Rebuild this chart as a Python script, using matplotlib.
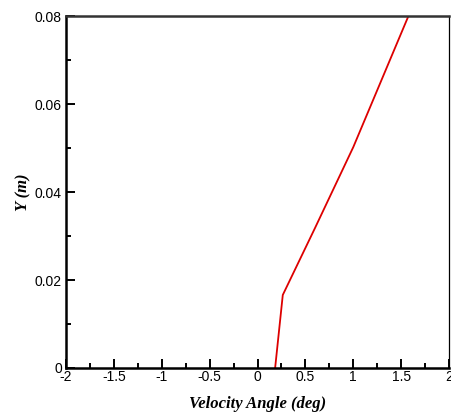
import matplotlib
matplotlib.use("Agg")
import matplotlib.pyplot as plt
from matplotlib.ticker import MultipleLocator

angle = [0.184, 0.264, 0.60, 1.00, 1.576]
ypos = [0.0, 0.0166, 0.0318, 0.0502, 0.08]

x_ticks = [-2, -1.5, -1, -0.5, 0, 0.5, 1, 1.5, 2]
x_labels = ["-2", "-1.5", "-1", "-0.5", "0", "0.5", "1", "1.5", "2"]
y_ticks = [0, 0.02, 0.04, 0.06, 0.08]
y_labels = ["0", "0.02", "0.04", "0.06", "0.08"]

fig = plt.figure(figsize=(4.52, 4.12), dpi=100)
ax = fig.add_axes([0.146, 0.1068, 0.8474, 0.8542])
ax.plot(angle, ypos, color="#dd0000", lw=1.3)
ax.set_xlim(-2, 2)
ax.set_ylim(0, 0.08)
ax.set_xticks(x_ticks)
ax.set_xticklabels(x_labels)
ax.set_yticks(y_ticks)
ax.set_yticklabels(y_labels)
ax.xaxis.set_minor_locator(MultipleLocator(0.25))
ax.yaxis.set_minor_locator(MultipleLocator(0.01))
ax.tick_params(which="both", direction="in", top=False, right=False, width=1.4,
               labelsize=10, labelfontfamily="Liberation Sans")
ax.tick_params(which="major", length=6.5)
ax.tick_params(which="minor", length=3.5)
ax.tick_params(axis="x", pad=1.5)
ax.tick_params(axis="y", pad=3)
for s in ["left", "bottom"]:
    ax.spines[s].set_linewidth(1.8)
ax.spines["top"].set_linewidth(1.8)
ax.spines["top"].set_color("#333333")
ax.spines["right"].set_linewidth(0.9)
ax.set_xlabel("Velocity Angle (deg)", fontfamily="Liberation Serif", fontweight="bold",
              fontstyle="italic", fontsize=12, labelpad=8.5)
ax.set_ylabel("Y (m)", fontfamily="Liberation Serif", fontweight="bold",
              fontstyle="italic", fontsize=12, labelpad=2.5)
fig.savefig("out.png", dpi=100)
